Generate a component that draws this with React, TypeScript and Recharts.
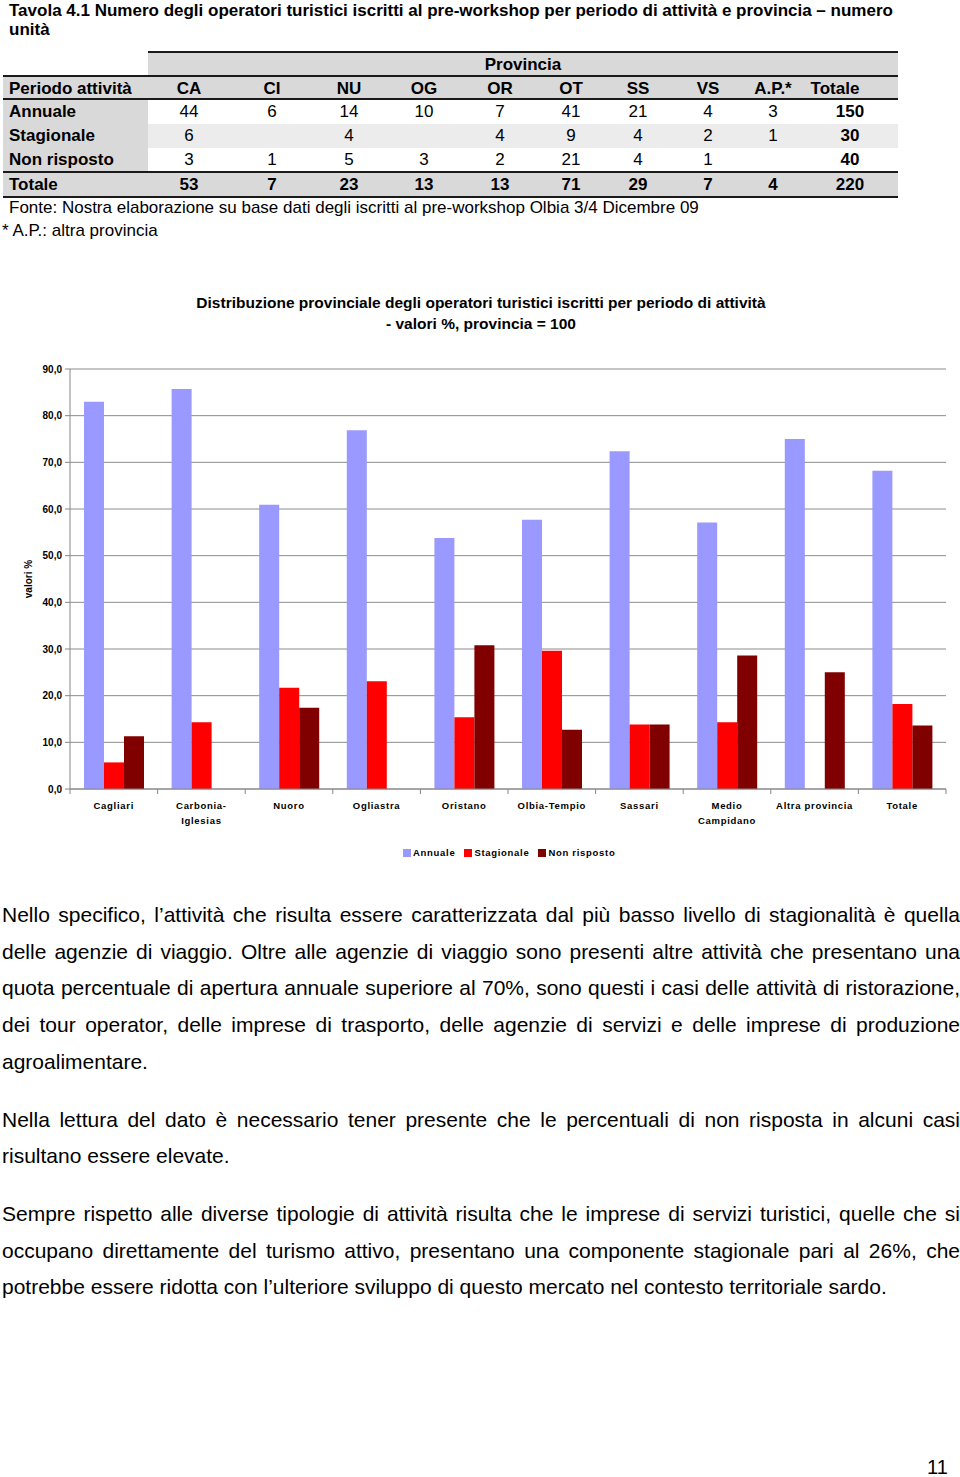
import { BarChart, Bar, XAxis, YAxis, CartesianGrid } from 'recharts'

// table 4.1 - numero unità
const provinceCodes = ['CA', 'CI', 'NU', 'OG', 'OR', 'OT', 'SS', 'VS', 'A.P.*', 'Totale']
const rowLabels = ['Annuale', 'Stagionale', 'Non risposto', 'Totale']
const tableAnnuale = ['44', '6', '14', '10', '7', '41', '21', '4', '3', '150']
const tableStagionale = ['6', '', '4', '', '4', '9', '4', '2', '1', '30']
const tableNonRisposto = ['3', '1', '5', '3', '2', '21', '4', '1', '', '40']
const tableTotale = ['53', '7', '23', '13', '13', '71', '29', '7', '4', '220']

// chart - valori %, provincia = 100
const categories = ['Cagliari', 'Carbonia-Iglesias', 'Nuoro', 'Ogliastra', 'Oristano', 'Olbia-Tempio', 'Sassari', 'Medio Campidano', 'Altra provincia', 'Totale']
const tickLabels = [['Cagliari'], ['Carbonia-', 'Iglesias'], ['Nuoro'], ['Ogliastra'], ['Oristano'], ['Olbia-Tempio'], ['Sassari'], ['Medio', 'Campidano'], ['Altra provincia'], ['Totale']]
const annuale = [83.0, 85.7, 60.9, 76.9, 53.8, 57.7, 72.4, 57.1, 75.0, 68.2]
const stagionale = [5.7, 14.3, 21.7, 23.1, 15.4, 29.6, 13.8, 14.3, null, 18.2]
const nonRisposto = [11.3, null, 17.4, null, 30.8, 12.7, 13.8, 28.6, 25.0, 13.6]
const yTicks = [0, 10, 20, 30, 40, 50, 60, 70, 80, 90]

const data = categories.map((name, i) => ({
  name,
  annuale: annuale[i],
  stagionale: stagionale[i],
  nonRisposto: nonRisposto[i],
}))

const FONT = '"Liberation Sans", Arial, Helvetica, sans-serif'
const GRAY = '#d9d9d9'
const LIGHT = '#ececec'
const colCenters = [189, 272, 349, 424, 500, 571, 638, 708, 773, 850]

const fmt = (v: number) => v.toFixed(1).replace('.', ',')

function CatTick(props: any) {
  const { x, y, index, width, visibleTicksCount } = props
  const half = width / visibleTicksCount / 2
  const lines = tickLabels[index] || []
  return (
    <g>
      <line x1={x - half} y1={y} x2={x - half} y2={y + 5} stroke="#868686" />
      {index === visibleTicksCount - 1 && <line x1={x + half} y1={y} x2={x + half} y2={y + 5} stroke="#868686" />}
      {lines.map((l: string, k: number) => (
        <text key={k} x={x} y={y + 19.5 + k * 15} textAnchor="middle" fontSize={9.5} fontWeight="bold" letterSpacing={0.7} fill="#000" fontFamily={FONT}>
          {l}
        </text>
      ))}
    </g>
  )
}

function Table() {
  const rows = [tableAnnuale, tableStagionale, tableNonRisposto, tableTotale]
  const rowTops = [100, 124, 148, 173]
  const line = (top: number, left: number) => (
    <div style={{ position: 'absolute', top, left, width: 898 - left, height: 2, background: '#1a1a1a' }} />
  )
  return (
    <div style={{ position: 'absolute', top: 0, left: 0, width: 960, height: 245, fontFamily: FONT, fontSize: 17, color: '#000' }}>
      <div style={{ position: 'absolute', top: 1, left: 9, width: 900, fontWeight: 'bold', lineHeight: '19px' }}>
        Tavola 4.1 Numero degli operatori turistici iscritti al pre-workshop per periodo di attività e provincia – numero unità
      </div>
      <div style={{ position: 'absolute', top: 53, left: 148, width: 750, height: 23, background: GRAY }} />
      <div style={{ position: 'absolute', top: 77, left: 3, width: 895, height: 23, background: GRAY }} />
      <div style={{ position: 'absolute', top: 100, left: 3, width: 145, height: 73, background: GRAY }} />
      <div style={{ position: 'absolute', top: 124, left: 148, width: 750, height: 24, background: LIGHT }} />
      <div style={{ position: 'absolute', top: 173, left: 3, width: 895, height: 24, background: GRAY }} />
      {line(51, 148)}
      {line(75, 3)}
      {line(98, 3)}
      {line(171, 3)}
      {line(196, 3)}
      <div style={{ position: 'absolute', top: 54, left: 148, width: 750, textAlign: 'center', fontWeight: 'bold', lineHeight: '21px' }}>Provincia</div>
      <div style={{ position: 'absolute', top: 78, left: 9, fontWeight: 'bold', lineHeight: '21px' }}>Periodo attività</div>
      {provinceCodes.map((c, j) => (
        <div key={c} style={{ position: 'absolute', top: 78, left: j === 9 ? 835 : colCenters[j], transform: 'translateX(-50%)', fontWeight: 'bold', lineHeight: '21px' }}>{c}</div>
      ))}
      {rows.map((r, i) => (
        <div key={i}>
          <div style={{ position: 'absolute', top: rowTops[i] + 1, left: 9, fontWeight: 'bold', lineHeight: '22px' }}>{rowLabels[i]}</div>
          {r.map((v, j) => (
            <div key={j} style={{ position: 'absolute', top: rowTops[i] + 1, left: colCenters[j], transform: 'translateX(-50%)', fontWeight: i === 3 || j === 9 ? 'bold' : 'normal', lineHeight: '22px' }}>{v}</div>
          ))}
        </div>
      ))}
      <div style={{ position: 'absolute', top: 198, left: 9, lineHeight: '20px' }}>Fonte: Nostra elaborazione su base dati degli iscritti al pre-workshop Olbia 3/4 Dicembre 09</div>
      <div style={{ position: 'absolute', top: 221, left: 2, lineHeight: '20px' }}>* A.P.: altra provincia</div>
    </div>
  )
}

function Chart() {
  const legend = [
    { label: 'Annuale', color: '#9999ff' },
    { label: 'Stagionale', color: '#ff0000' },
    { label: 'Non risposto', color: '#800000' },
  ]
  return (
    <>
      <div style={{ position: 'absolute', top: 292, left: 0, width: 962, textAlign: 'center', fontFamily: FONT, fontSize: 15.5, fontWeight: 'bold', lineHeight: '21px' }}>
        Distribuzione provinciale degli operatori turistici iscritti per periodo di attività
        <br />- valori %, provincia = 100
      </div>
      <div style={{ position: 'absolute', top: 360, left: 0 }}>
        <BarChart width={960} height={470} data={data} margin={{ top: 9, right: 14, left: 0, bottom: 0 }} barSize={20} barGap={0}>
          <CartesianGrid vertical={false} stroke="#8c8c8c" />
          <XAxis dataKey="name" interval={0} height={41} tickSize={0} tickMargin={0} tickLine={false} stroke="#868686" tick={<CatTick />} />
          <YAxis
            width={70}
            domain={[0, 90]}
            ticks={yTicks}
            interval={0}
            tickFormatter={fmt}
            tickSize={5}
            tickMargin={3}
            stroke="#868686"
            tick={{ fontSize: 10, fontWeight: 'bold', fill: '#000', fontFamily: FONT }}
            label={{ value: 'valori %', angle: -90, position: 'center', dx: -7, style: { fontSize: 10, fontWeight: 'bold', fill: '#000', fontFamily: FONT } }}
          />
          <Bar dataKey="annuale" fill="#9999ff" isAnimationActive={false} />
          <Bar dataKey="stagionale" fill="#ff0000" isAnimationActive={false} />
          <Bar dataKey="nonRisposto" fill="#800000" isAnimationActive={false} />
        </BarChart>
      </div>
      <div style={{ position: 'absolute', top: 845, left: 403, display: 'flex', alignItems: 'center', fontFamily: FONT, fontSize: 9.5, fontWeight: 'bold', letterSpacing: 0.7, lineHeight: '16px' }}>
        {legend.map((l) => (
          <span key={l.label} style={{ display: 'flex', alignItems: 'center', marginRight: 9 }}>
            <span style={{ width: 8, height: 8, background: l.color, marginRight: 2, display: 'inline-block' }} />
            {l.label}
          </span>
        ))}
      </div>
    </>
  )
}

const paragraphs = [
  'Nello specifico, l’attività che risulta essere caratterizzata dal più basso livello di stagionalità è quella delle agenzie di viaggio. Oltre alle agenzie di viaggio sono presenti altre attività che presentano una quota percentuale di apertura annuale superiore al 70%, sono questi i casi delle attività di ristorazione, dei tour operator, delle imprese di trasporto, delle agenzie di servizi e delle imprese di produzione agroalimentare.',
  'Nella lettura del dato è necessario tener presente che le percentuali di non risposta in alcuni casi risultano essere elevate.',
  'Sempre rispetto alle diverse tipologie di attività risulta che le imprese di servizi turistici, quelle che si occupano direttamente del turismo attivo, presentano una componente stagionale pari al 26%, che potrebbe essere ridotta con l’ulteriore sviluppo di questo mercato nel contesto territoriale sardo.',
]

export default function App() {
  return (
    <div style={{ position: 'absolute', top: 0, left: 0, width: 960, height: 1477, background: '#fff', overflow: 'hidden' }}>
      <Table />
      <Chart />
      <div style={{ position: 'absolute', top: 897, left: 2, width: 958, fontFamily: FONT, fontSize: 21, lineHeight: '36.7px', textAlign: 'justify', color: '#000' }}>
        {paragraphs.map((p, i) => (
          <p key={i} style={{ margin: 0, marginBottom: 21 }}>{p}</p>
        ))}
      </div>
      <div style={{ position: 'absolute', top: 1457, left: 927, fontFamily: FONT, fontSize: 20, lineHeight: '20px' }}>11</div>
    </div>
  )
}
